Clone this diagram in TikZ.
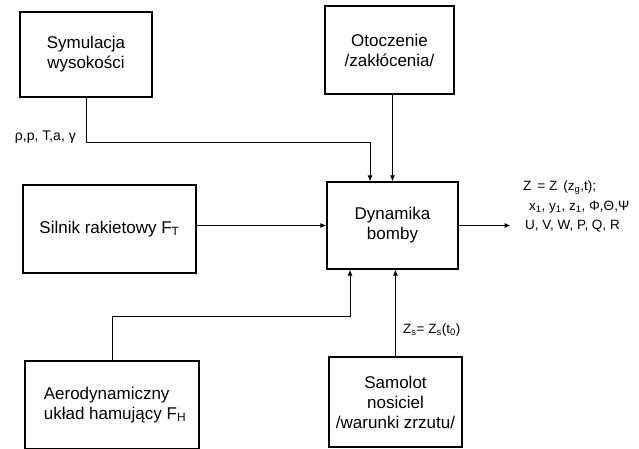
\documentclass[tikz,border=0pt]{standalone}
\usepackage{fontspec}
\setmainfont{Liberation Sans}
\usetikzlibrary{arrows.meta,positioning,calc}

\begin{document}
\begin{tikzpicture}[x=1pt,y=-1pt,
 blok/.style={draw,line width=1.1pt,align=center,inner sep=0pt,font=\fontsize{17}{20}\selectfont},
 opis/.style={inner sep=0pt,font=\fontsize{13.5}{15}\selectfont},
 arr/.style={-{Latex[length=6pt,width=5pt]},line width=1pt}]
\useasboundingbox (0,0) rectangle (639,449);
\node[blok,minimum width=132,minimum height=85] (sym) at (86,54.5) {Symulacja\\wysokości};
\node[blok,minimum width=129,minimum height=88] (oto) at (389.5,50) {Otoczenie\\/zakłócenia/};
\node[blok,minimum width=131,minimum height=87] (dyn) at (392.5,225.5) {Dynamika\\bomby};
\node[blok,minimum width=173,minimum height=88] (sil) at (109.5,229) {Silnik rakietowy F\textsubscript{T}};
\node[blok,align=left,minimum width=174,minimum height=88] (aero) at (112,405) {\hspace*{6pt}Aerodynamiczny\\\hspace*{6pt}układ hamujący F\textsubscript{H}};
\node[blok,minimum width=133,minimum height=90] (samolot) at (395.5,402) {Samolot\\nosiciel\\/warunki zrzutu/};
% wejscia do bloku dynamiki
\draw[arr] (sym.south) -- ++(0,45) coordinate (symk) -| ([xshift=-22.5]dyn.north);
\node[opis,anchor=east,font=\fontsize{14}{16}\selectfont] (param) at ([xshift=-10,yshift=5]symk) {ρ,p, T,a, γ};
\draw[arr] (oto.south -| dyn.north) -- (dyn.north);
\draw[arr] (sil.east |- dyn.west) -- (dyn.west);
\draw[arr] (aero.north) -- ++(0,-44) -| ([xshift=-42.5]dyn.south);
\draw[arr] (samolot.north) -- (samolot.north |- dyn.south);
\node[opis,anchor=west] (zrzut) at (403,330) {Z\textsubscript{s}= Z\textsubscript{s}(t\textsubscript{0})};
% wyjscie
\draw[arr] (dyn.east) -- ++(52,0) coordinate (wy);
\node[opis,anchor=west] (wy1) at (523,188) {Z \,= Z \,(z\textsubscript{g},t);};
\node[opis,anchor=west] (wy2) at (529,207) {x\textsubscript{1}, y\textsubscript{1}, z\textsubscript{1}, Φ,Θ,Ψ};
\node[opis,anchor=west] (wy3) at (525,226) {U, V, W, P, Q, R};
\end{tikzpicture}
\end{document}
